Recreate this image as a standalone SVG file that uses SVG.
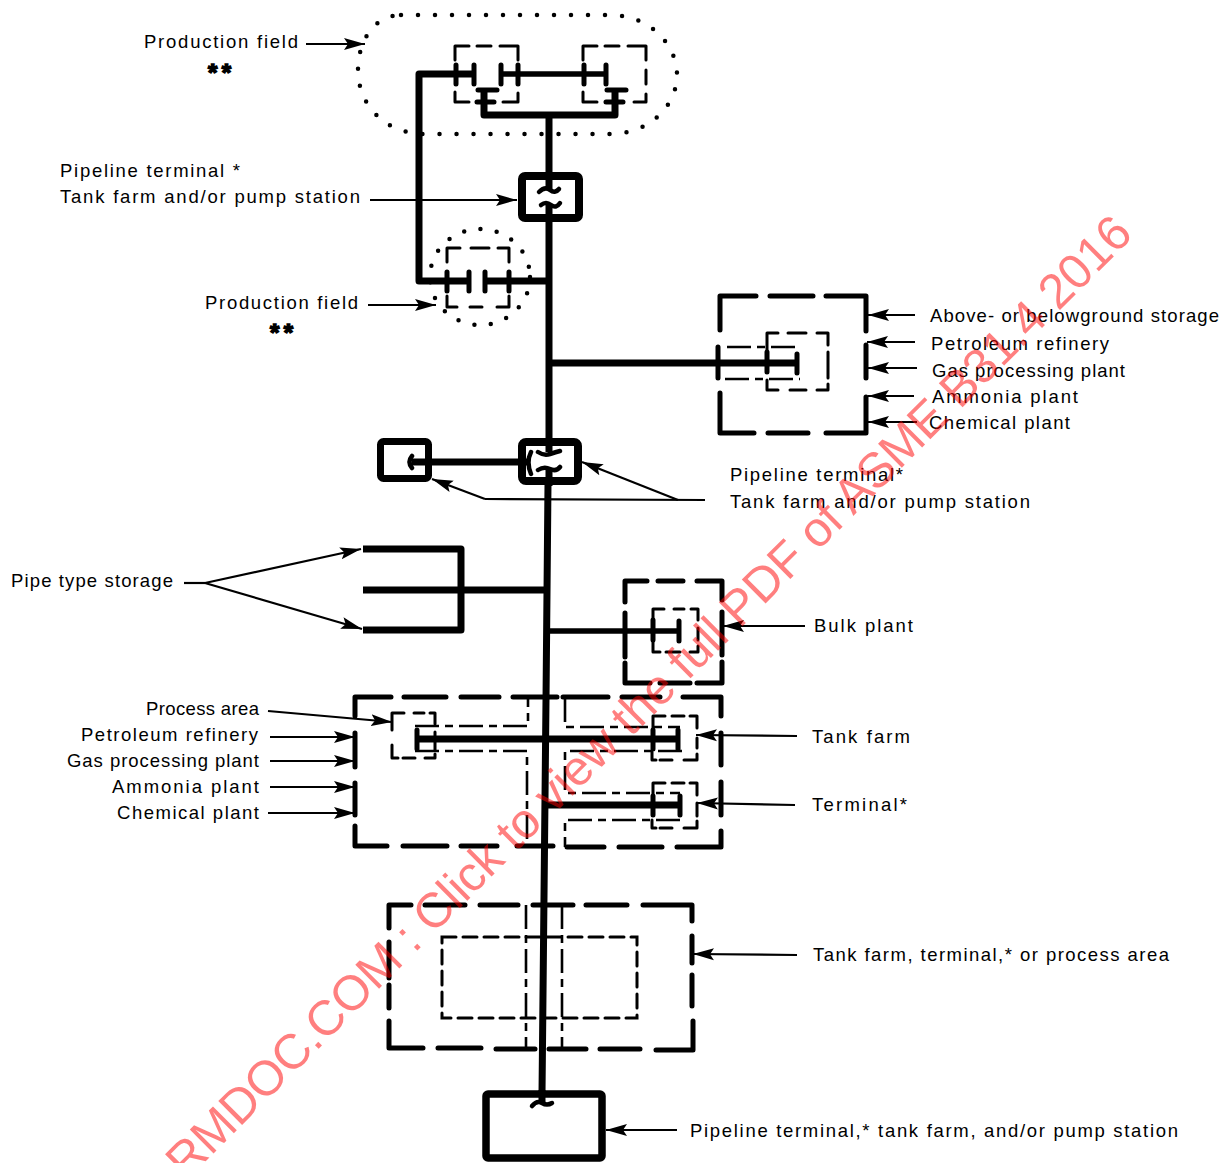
<svg xmlns="http://www.w3.org/2000/svg" width="1222" height="1163" viewBox="0 0 1222 1163">
<style>
text{font-family:"Liberation Sans",Arial,sans-serif;font-size:18.500px;fill:#000}
text.wm{font-size:49px;fill:#f00;fill-opacity:.5}
text.st{font-size:24px;font-weight:bold;stroke:#000;stroke-width:1.500}
.o{fill:none;stroke:#000;stroke-linejoin:round;stroke-linecap:round}
.b5{stroke-width:5}
.b3{stroke-width:3}
.p{fill:none;stroke:#000;stroke-width:7;stroke-linejoin:round}
.p5{fill:none;stroke:#000;stroke-width:5.500;stroke-linejoin:round}
.cap{fill:none;stroke:#000;stroke-width:5;stroke-linecap:round}
.w{fill:none;stroke:#000;stroke-width:4.500;stroke-linecap:round}
.dd{fill:none;stroke:#000;stroke-width:2.600;stroke-dasharray:24 6 8 6}
.dots{fill:none;stroke:#000;stroke-width:4.500;stroke-linecap:round}
.in{fill:none;stroke:#000;stroke-width:3;stroke-dasharray:14 7;stroke-linecap:round}
.ldr{fill:none;stroke:#000;stroke-width:2.200}
.a{marker-end:url(#ah)}
</style>
<defs>
<marker id="ah" markerUnits="userSpaceOnUse" markerWidth="22" markerHeight="14" refX="21" refY="7" orient="auto"><path d="M0 1 L21 7 L0 13 L4 7Z" fill="#000"/></marker>
</defs>

<g id="connectors">
<path class="p" d="M549 115V176M549 220V442M548 484L546 700L542 1094"/>
<path class="p" d="M474 74H419V281H469M486 281H549"/>
<path class="p5" d="M501 74H606"/>
<path class="p" d="M484 90V115H615V90"/>
<path class="p" d="M429 462H520"/>
<path class="p" d="M549 363H797"/>
<path class="p" d="M363 549H461V630H363M363 590H547"/>
<path class="p5" d="M547 631H679"/>
<path class="p" d="M417 739H678"/>
<path class="p" d="M546 805H680"/>
<path class="cap" d="M474 65V84M501 65V84M606 65V84M456 65V84M518 65V84M584 65V84M478 90H497M607 90H626M477 102H494M606 102H623M469 272V291M485 272V291M447 272V291M509 272V291M797 354V373M718 347V378M767 352V372M679 621V641M653 620V640M625 613V657M417 730V749M678 730V749M653 730V749M680 796V815M653 796V815"/>
<path class="dd" d="M727 347H798M725 379H800M415 726H528V698M415 751H527V846M565 698V727H680M682 751H565V793H680M680 820H565V847M526 905V1048M562 905V1048"/>
</g>

<g id="leaders">
<path class="ldr a" d="M306 44H365"/>
<path class="ldr a" d="M370 200H517"/>
<path class="ldr a" d="M368 305H436"/>
<path class="ldr a" d="M915 315H868"/>
<path class="ldr a" d="M915 342H867"/>
<path class="ldr a" d="M917 368H868"/>
<path class="ldr a" d="M914 396H868"/>
<path class="ldr a" d="M917 422H868"/>
<path class="ldr a" d="M485 499L432 479"/>
<path class="ldr a" d="M678 500L582 462"/>
<path class="ldr" d="M485 499L705 500"/>
<path class="ldr" d="M184 583H205"/>
<path class="ldr a" d="M205 583L361 549"/>
<path class="ldr a" d="M205 583L362 629"/>
<path class="ldr a" d="M805 626H723"/>
<path class="ldr a" d="M268 711L392 722"/>
<path class="ldr a" d="M270 737H355"/>
<path class="ldr a" d="M270 761H355"/>
<path class="ldr a" d="M270 787H355"/>
<path class="ldr a" d="M268 813H355"/>
<path class="ldr a" d="M797 736L696 735"/>
<path class="ldr a" d="M795 805L697 803"/>
<path class="ldr a" d="M797 955L693 954"/>
<path class="ldr a" d="M677 1130H606"/>
</g>

<g id="production-field-top">
<path class="dots" stroke-dasharray="0 17" d="M401 15H610C650 15 677 45 677 75C677 105 650 134 610 134H425C385 134 358 105 358 70C358 40 375 15 401 15Z"/>
<path class="o b3" d="M455 60V46H469M477 46H491M500 46H518V60M518 72V82M518 93V102H503M469 102H455V92"/>
<path class="o b3" d="M583 60V46H597M605 46H619M628 46H646V60M646 70V84M646 94V102H634M597 102H583V92"/>
<text x="144" y="48" textLength="154">Production field</text>
<text class="st" x="208" y="81" textLength="23">**</text>
</g>

<g id="pump-station-1">
<rect x="522" y="176" width="57" height="42" rx="3" fill="#fff" stroke="#000" stroke-width="8"/>
<path class="p" d="M549 172V190"/>
<path class="w" d="M539 192Q545 186 550 190T559 189M541 205Q546 201 551 205T560 203"/>
<path class="p" d="M549 205V222"/>
<text x="60" y="177" textLength="180">Pipeline terminal  *</text>
<text x="60" y="203" textLength="300">Tank farm and/or pump station</text>
</g>

<g id="production-field-mid">
<ellipse class="dots" stroke-dasharray="0 16.500" cx="480" cy="277" rx="50" ry="48"/>
<path class="o b3" d="M447 262V248H460M471 248H489M498 248H509V262M509 272V291M509 296V307H497M482 307H470M457 307H447V296"/>
<text x="205" y="309" textLength="153">Production field</text>
<text class="st" x="270" y="341" textLength="23">**</text>
</g>

<g id="processing-plant-upper">
<path class="o b5" d="M720 330V296H756M770 296H813M826 296H866V331M866 345V378M866 397V433H826M808 433H768M754 433H720V393"/>
<path class="o b3" d="M767 350V333H778M788 333H806M817 333H828V345M828 352V378M828 384V390H817M806 390H790M778 390H767V380"/>
<text x="930" y="322" textLength="289">Above- or belowground storage</text>
<text x="931" y="350" textLength="178">Petroleum refinery</text>
<text x="932" y="377" textLength="193">Gas processing plant</text>
<text x="932" y="403" textLength="146">Ammonia plant</text>
<text x="929" y="429" textLength="141">Chemical plant</text>
</g>

<g id="pump-station-2">
<rect x="380.500" y="441.500" width="48" height="37" rx="3" fill="#fff" stroke="#000" stroke-width="7"/>
<rect x="522" y="442" width="56" height="39" rx="4" fill="#fff" stroke="#000" stroke-width="8"/>
<path class="p" d="M412 462H428M522 462H530M549 439V452M549 470V486"/>
<path class="w" d="M412 456Q407 462 412 468M531 452Q526 462 531 474M538 452Q544 456 550 454T560 451M538 470Q544 466 550 469T560 467"/>
<text x="730" y="481" textLength="173">Pipeline terminal*</text>
<text x="730" y="508" textLength="300">Tank farm and/or pump station</text>
</g>

<g id="pipe-type-storage">
<text x="11" y="587" textLength="162">Pipe type storage</text>
</g>

<g id="bulk-plant">
<path class="o b5" d="M625 602V581H647M658 581H683M697 581H722V600M722 612V655M722 662V683H697M690 683H660M650 683H625V663"/>
<path class="o b3" d="M653 622V609H664M674 609H684M691 609H698V620M698 628V640M698 646V652H690M680 652H666M660 652H653V642"/>
<text x="814" y="632" textLength="99">Bulk plant</text>
</g>

<g id="process-area">
<path class="o b5" d="M355 716V697H391M404 697H446M461 697H499M513 697H557M563 697H608M622 697H660M683 697H721V716M721 733V765M721 782V815M721 831V847H677M662 847H619M604 847H567M553 846H517M497 846H461M447 846H403M387 846H355V826M355 815V783M355 767V733"/>
<path class="o b3" d="M392 730V713H404M414 713H424M430 713H435V724M435 732V750M435 754V758H425M415 758H403M398 758H392V745"/>
<path class="o b3" d="M653 730V716H665M672 716H684M690 716H697V728M697 738V748M697 754V760H684M672 760H660M656 760H652V752"/>
<path class="o b3" d="M653 796V783H665M672 783H684M690 783H697V795M697 803V816M697 821V828H684M672 828H660M656 828H652V820"/>
<text x="146" y="715" textLength="113">Process area</text>
<text x="81" y="741" textLength="177">Petroleum refinery</text>
<text x="67" y="767" textLength="192">Gas processing plant</text>
<text x="112" y="793" textLength="147">Ammonia plant</text>
<text x="117" y="819" textLength="142">Chemical plant</text>
<text x="812" y="743" textLength="98">Tank farm</text>
<text x="812" y="811" textLength="95">Terminal*</text>
</g>

<g id="tank-farm-terminal">
<path class="o b5" d="M389 928V905H411M425 905H465M480 905H518M533 905H573M586 905H627M643 905H692V921M692 936V963M692 975V1006M693 1021V1050H656M640 1049H600M586 1049H549M535 1049H496M481 1048H438M423 1048H389V1021M389 1008V985M389 978V942"/>
<rect class="in" x="442" y="937" width="195" height="81"/>
<text x="813" y="961" textLength="356">Tank farm, terminal,* or process area</text>
</g>

<g id="pump-station-3">
<rect x="486" y="1094" width="116" height="64" rx="2" fill="#fff" stroke="#000" stroke-width="7.500"/>
<path class="p" d="M542 1090V1102"/>
<path class="w" d="M532 1106Q537 1100 542 1103T552 1103"/>
<text x="690" y="1137" textLength="488">Pipeline terminal,* tank farm, and/or pump station</text>
</g>

<text class="wm" id="watermark" transform="translate(186 1181) rotate(-44.900)" textLength="1339" lengthAdjust="spacing">RMDOC.COM : Click to view the full PDF of ASME B31.4 2016</text>
</svg>
